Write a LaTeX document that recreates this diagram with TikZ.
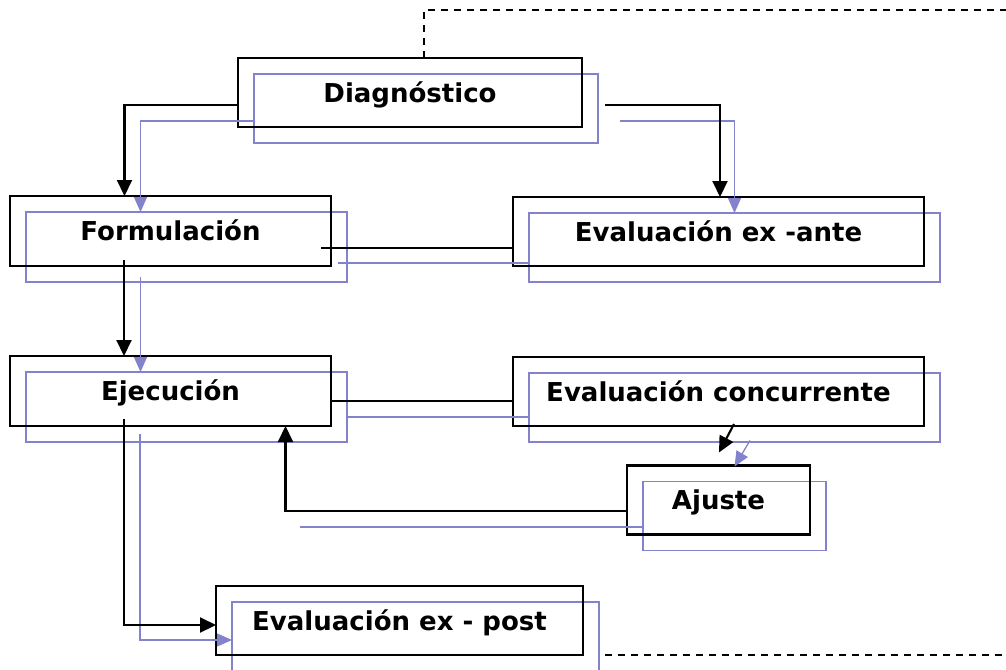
\documentclass[tikz,border=0pt]{standalone}
\usepackage{fontspec}
\setmainfont{DejaVu Sans}
\usetikzlibrary{arrows.meta}
\definecolor{shc}{RGB}{130,130,205}
\tikzset{
  box/.style={draw=black, line width=2.2pt, inner sep=0pt, outer sep=0pt, align=center,
    text height=19pt, text depth=0pt,
    font=\bfseries\fontsize{26}{30}\selectfont},
  sbox/.style={draw=shc, line width=1.3pt, inner sep=0pt, outer sep=0pt},
  conn/.style={draw=black, line width=2.1pt},
  arr/.style={conn, -{Triangle[length=16pt,width=15pt]}},
  sconn/.style={draw=shc, line width=1.3pt},
  sarr/.style={sconn, -{Triangle[length=15pt,width=13pt]}},
  dash line/.style={draw=black, line width=1.5pt, dash pattern=on 7pt off 6pt},
}
\begin{document}
\begin{tikzpicture}[x=1pt,y=-1pt]
\useasboundingbox (0,0) rectangle (1006,669);
% shadow boxes
\node[sbox, minimum width=344pt, minimum height=69pt] (diag2) at (426,108.5) {};
\node[sbox, minimum width=321pt, minimum height=70pt] (form2) at (186.5,247) {};
\node[sbox, minimum width=411pt, minimum height=69pt] (ante2) at (734.5,247.5) {};
\node[sbox, minimum width=321pt, minimum height=70pt] (ejec2) at (186.5,407) {};
\node[sbox, minimum width=411pt, minimum height=69pt] (conc2) at (734.5,407.5) {};
\node[sbox, minimum width=183pt, minimum height=69pt] (ajus2) at (734.5,516) {};
\node[sbox, minimum width=367pt, minimum height=69pt] (post2) at (415.5,636.5) {};
% main boxes
\node[box, minimum width=344pt, minimum height=69pt] (diag) at (410,92.5) {Diagnóstico};
\node[box, minimum width=321pt, minimum height=70pt] (form) at (170.5,231) {Formulación};
\node[box, minimum width=411pt, minimum height=69pt] (ante) at (718.5,231.5) {Evaluación ex -ante};
\node[box, minimum width=321pt, minimum height=70pt] (ejec) at (170.5,391) {Ejecución};
\node[box, minimum width=411pt, minimum height=69pt] (conc) at (718.5,391.5) {Evaluación concurrente};
\node[box, minimum width=183pt, minimum height=69pt] (ajus) at (718.5,500) {Ajuste};
\node[box, minimum width=367pt, minimum height=69pt] (post) at (399.5,620.5) {Evaluación ex - post};
% helper coordinates
\coordinate (tr) at (1006,10);
\coordinate (br) at (1006,655);
\coordinate (bl) at ([xshift=113pt]ejec2.south);
% shadow connectors
\draw[sarr] ([yshift=-12.5pt]diag2.west) -| ([xshift=-46pt]form2.north);
\draw[sarr] ([xshift=22pt,yshift=-12.5pt]diag2.east) -| (ante2.north);
\draw[sconn] ([xshift=-9pt,yshift=-16pt]form2.east) coordinate (fa2) -- (fa2 -| ante2.west);
\draw[sarr] ([xshift=-46pt,yshift=5pt]form2.south) -- ([xshift=-46pt]ejec2.north);
\draw[sconn] ([yshift=-10pt]ejec2.east) coordinate (ec2) -- (ec2 -| conc2.west);
\draw[sarr] ([xshift=15.5pt,yshift=1.5pt]conc2.south) -- ([yshift=15pt]ajus2.north);
\draw[sconn] ([yshift=-11pt]ajus2.west) coordinate (aj2) -- (aj2 -| bl);
\draw[sarr] ([xshift=-46.5pt,yshift=8pt]ejec2.south) |- ([yshift=-3.5pt]post2.west);
% main connectors
\draw[arr] ([yshift=-12.5pt]diag.west) -| ([xshift=-46pt]form.north);
\draw[arr] ([xshift=23pt,yshift=-12.5pt]diag.east) -| ([xshift=1.5pt]ante.north);
\draw[conn] ([xshift=-10pt,yshift=-17pt]form.east) coordinate (fa) -- (fa -| ante.west);
\draw[arr] ([xshift=-46.5pt,yshift=6pt]form.south) -- ([xshift=-46.5pt]ejec.north);
\draw[conn] ([yshift=-10pt]ejec.east) coordinate (ec) -- (ec -| conc.west);
\draw[arr] ([xshift=15.5pt,yshift=2pt]conc.south) -- ([xshift=0.5pt,yshift=13pt]ajus.north);
\draw[arr] ([yshift=-11pt]ajus.west) -| ([xshift=115pt]ejec.south);
\draw[arr] ([xshift=-46.5pt,yshift=7pt]ejec.south) |- ([yshift=-4.5pt]post.west);
% dashed lines
\draw[dash line] ([xshift=14pt]diag.north) |- (tr);
\draw[dash line] ([xshift=22pt]post.south east) -- (br);
\end{tikzpicture}
\end{document}
